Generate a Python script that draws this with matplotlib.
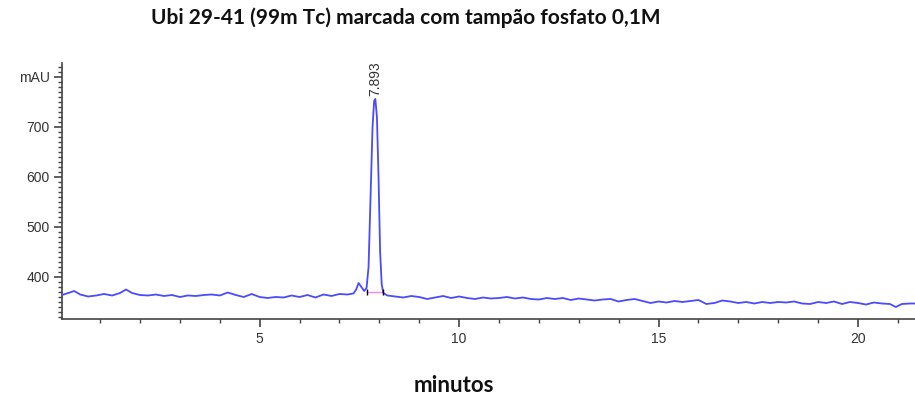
import matplotlib
matplotlib.use("Agg")
import matplotlib.pyplot as plt
from matplotlib.ticker import MultipleLocator, FixedLocator

# trace (minutes, mAU)
time_min = [
    0.05, 0.2, 0.35, 0.5, 0.7, 0.9, 1.1, 1.3, 1.5, 1.65, 1.8, 2.0, 2.2, 2.4,
    2.6, 2.8, 3.0, 3.2, 3.4, 3.6, 3.8, 4.0, 4.2, 4.4, 4.6, 4.8, 5.0, 5.2, 5.4,
    5.6, 5.8, 6.0, 6.2, 6.4, 6.6, 6.8, 7.0, 7.2, 7.35,
    7.42, 7.48, 7.55, 7.62, 7.68, 7.73, 7.78, 7.83, 7.87, 7.90, 7.94, 7.98,
    8.02, 8.06, 8.10, 8.2, 8.3,
    8.4, 8.6, 8.8, 9.0, 9.2, 9.4, 9.6, 9.8, 10.0, 10.2, 10.4, 10.6, 10.8,
    11.0, 11.2, 11.4, 11.6, 11.8, 12.0, 12.2, 12.4, 12.6, 12.8, 13.0, 13.2,
    13.4, 13.6, 13.8, 14.0, 14.2, 14.4, 14.6, 14.8, 15.0, 15.2, 15.4, 15.6,
    15.8, 16.0, 16.2, 16.4, 16.6, 16.8, 17.0, 17.2, 17.4, 17.6, 17.8, 18.0,
    18.2, 18.4, 18.6, 18.8, 19.0, 19.2, 19.4, 19.6, 19.8, 20.0, 20.2, 20.4,
    20.6, 20.8, 20.95, 21.1, 21.3, 21.45,
]
signal_mau = [
    364, 368, 372, 365, 361, 363, 366, 363, 368, 375, 368, 364, 363, 365,
    362, 364, 360, 363, 362, 364, 365, 363, 369, 364, 360, 366, 360, 358, 360,
    359, 363, 360, 364, 359, 365, 362, 366, 365, 367,
    375, 388, 380, 372, 378, 420, 560, 700, 752, 756, 720, 600,
    450, 385, 368, 363, 362,
    361, 359, 362, 360, 356, 359, 362, 358, 361, 358, 356, 359, 357,
    358, 360, 357, 359, 356, 355, 358, 356, 358, 354, 357, 355,
    353, 355, 356, 351, 354, 356, 352, 348, 351, 349, 352, 350,
    352, 354, 346, 348, 353, 351, 348, 350, 347, 350, 348, 350,
    349, 351, 347, 346, 350, 348, 351, 346, 350, 348, 345, 349,
    347, 346, 340, 346, 347, 347,
]

peak_rt = 7.893
peak_base_x = [7.70, 8.08]
peak_base_y = [370, 370]

title = "Ubi 29-41 (99m Tc) marcada com tampão fosfato 0,1M"
x_label = "minutos"
y_unit = "mAU"

fig = plt.figure(figsize=(9.15, 4.0), dpi=100)
ax = fig.add_axes([0.068, 0.2025, 0.932, 0.64])

ax.plot(time_min, signal_mau, color="#4a4aff", lw=1.3, zorder=3)
ax.plot(peak_base_x, peak_base_y, color="#ff80ff", lw=1.0, zorder=2)
ax.plot(peak_base_x, peak_base_y, "|", color="black", ms=4, mew=1, zorder=4)

ax.text(peak_rt, 762, "7.893", rotation=90, ha="center", va="bottom",
        fontsize=10, color="#333333", family="Liberation Sans")

ax.set_xlim(0.05, 21.43)
ax.set_ylim(316, 828)

ax.xaxis.set_major_locator(FixedLocator([5, 10, 15, 20]))
ax.xaxis.set_minor_locator(MultipleLocator(1))
ax.yaxis.set_major_locator(FixedLocator([400, 500, 600, 700, 800]))
ax.yaxis.set_minor_locator(MultipleLocator(10))
ax.set_yticklabels(["400", "500", "600", "700", y_unit])

for lab in ax.get_xticklabels() + ax.get_yticklabels():
    lab.set_family("Liberation Sans")
    lab.set_fontsize(10)
    lab.set_color("#333333")

ax.tick_params(which="major", direction="out", length=6, width=1.2, color="#444444")
ax.tick_params(which="minor", direction="out", length=3, width=1.0, color="#444444")
ax.tick_params(axis="y", pad=3)

for side in ("top", "right"):
    ax.spines[side].set_visible(False)
for side in ("left", "bottom"):
    ax.spines[side].set_color("#444444")
    ax.spines[side].set_linewidth(1.2)

fig.text(0.443, 0.955, title, ha="center", va="center", fontsize=15,
         fontweight="bold", family="Lato", color="#111111")
fig.text(0.496, 0.037, x_label, ha="center", va="center", fontsize=16,
         fontweight="bold", family="Lato", color="#111111")

fig.savefig("out.png", dpi=100)
